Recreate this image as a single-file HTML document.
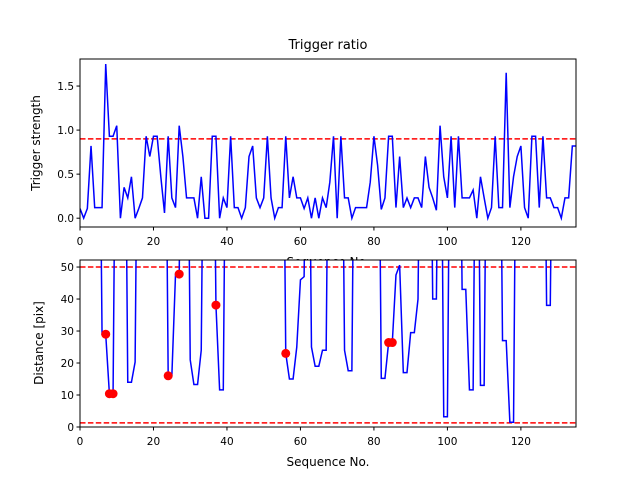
<!DOCTYPE html>
<html><head><meta charset="utf-8"><style>
html,body{margin:0;padding:0;background:#fff;}
svg{display:block;font-family:"DejaVu Sans","Liberation Sans",sans-serif;}
</style></head><body>
<svg id="fig" width="640" height="480" viewBox="0 0 640 480">
<rect width="640" height="480" fill="#fff"/>
<g id="topAxes"></g>
<g id="botAxes"></g>
</svg>
<script>
const H = 150;
const trigStrength = [0.11,0,0.11,0.82,0.12,0.12,0.12,1.75,0.93,0.93,1.05,0,0.35,0.23,0.47,0,0.11,0.23,0.93,0.7,
0.93,0.93,0.47,0.06,0.93,0.23,0.12,1.05,0.7,0.23,0.23,0.23,0,0.47,0,0,0.93,0.93,0,0.23,
0.12,0.93,0.12,0.12,0,0.12,0.7,0.82,0.23,0.12,0.23,0.93,0.23,0,0.12,0.12,0.93,0.23,0.47,0.23,
0.23,0.11,0.23,0,0.23,0,0.23,0.12,0.41,0.93,0,0.93,0.23,0.23,0,0.12,0.12,0.12,0.12,0.41,
0.93,0.6,0.1,0.23,0.93,0.93,0.12,0.7,0.12,0.23,0.12,0.23,0.23,0.12,0.7,0.35,0.23,0.09,1.05,0.47,
0.23,0.93,0.12,0.93,0.23,0.23,0.23,0.32,0,0.47,0.23,0,0.12,0.93,0.12,0.12,1.65,0.12,0.47,0.7,
0.82,0.12,0,0.93,0.93,0.12,0.93,0.23,0.23,0.12,0.12,0,0.23,0.23,0.82,0.82];
const distance = [H,H,H,H,H,H,29,29,10.4,10.4,H,H,H,14,14,20.3,H,H,H,52.3,
52.3,H,H,H,16,16,47.8,47.8,H,H,21,13.3,13.3,24,H,H,H,38.1,11.6,11.6,
H,H,H,H,H,H,H,H,H,H,H,H,H,H,H,H,23,15,15,25,
46,47,H,25,19,19,24,24,H,H,H,H,24,17.6,17.6,H,H,H,H,H,
H,H,15.2,15.2,26.4,26.4,47.5,50.6,17,17,29.5,29.5,40,H,H,H,40,40,H,3.2,
3.2,H,H,H,43,43,11.6,11.6,H,13,13,H,H,H,H,27,27,1.5,1.5,H,
H,H,H,H,H,H,H,38,38,H,H,H,H,H,H,H];
const dotX = [7,8,9,24,27,37,56,84,85];
const dotY = [29,10.4,10.4,16,47.8,38.1,23,26.4,26.4];
const xTicks = [0,20,40,60,80,100,120];
const topYTicks = [0,0.5,1.0,1.5];
const topYLabels = ["0.0","0.5","1.0","1.5"];
const botYTicks = [0,10,20,30,40,50];
const trigThreshold = [0.9];
const distThresholds = [50,1.3];

const NS='http://www.w3.org/2000/svg';
function mk(parent,tag,attrs,text){const e=document.createElementNS(NS,tag);for(const k in attrs)e.setAttribute(k,attrs[k]);if(text!==undefined)e.textContent=text;parent.appendChild(e);return e;}
const L=80,R=576;
const sx=v=>L+(v-0)/135*(R-L);
function axes(g,T,B,ymin,ymax,clipId){
  const sy=v=>B-(v-ymin)/(ymax-ymin)*(B-T);
  const defs=mk(g,'defs',{});const cp=mk(defs,'clipPath',{id:clipId});mk(cp,'rect',{x:L,y:T,width:R-L,height:B-T});
  const bg=mk(g,'rect',{x:L,y:T,width:R-L,height:B-T,fill:'#fff'});
  
  
  return sy;
}
// TOP
const topG=document.getElementById('topAxes');
const syT=axes(topG,59,227,-0.1,1.807,'ct');
const tg=mk(topG,'g',{'clip-path':'url(#ct)'});
trigThreshold.forEach(v=>{const l=mk(tg,'line',{x1:L,x2:R,y1:syT(v),y2:syT(v),stroke:'#f00','stroke-width':1.5,'stroke-dasharray':'5.5,2.4'});

});
const tl=mk(tg,'polyline',{points:trigStrength.map((v,i)=>sx(i)+','+syT(v)).join(' '),fill:'none',stroke:'#00f','stroke-width':1.5});


const tf=mk(topG,'rect',{x:L,y:59,width:R-L,height:168,fill:'none',stroke:'#000','stroke-width':1});


xTicks.forEach(v=>{mk(topG,'line',{x1:sx(v),x2:sx(v),y1:227,y2:230.5,stroke:'#000'});
const t=mk(topG,'text',{x:sx(v),y:245,'font-size':10.5,'text-anchor':'middle'},String(v));

});
topYTicks.forEach((v,i)=>{mk(topG,'line',{x1:L-3.5,x2:L,y1:syT(v),y2:syT(v),stroke:'#000'});
const t=mk(topG,'text',{x:L-6,y:syT(v)+4,'font-size':10.5,'text-anchor':'end'},topYLabels[i]);

});
const tt=mk(topG,'text',{x:328,y:49,'font-size':13,'text-anchor':'middle'},'Trigger ratio');


const ty=mk(topG,'text',{x:0,y:0,'font-size':12,'text-anchor':'middle',transform:'translate(40,143) rotate(-90)'},'Trigger strength');


const tx=mk(topG,'text',{x:328,y:266,'font-size':12,'text-anchor':'middle'},'Sequence No.');


// BOTTOM
const botG=document.getElementById('botAxes');
const syB=axes(botG,260,427,0,52.2,'cb');
const bg2=mk(botG,'g',{'clip-path':'url(#cb)'});
distThresholds.forEach(v=>{const l=mk(bg2,'line',{x1:L,x2:R,y1:syB(v),y2:syB(v),stroke:'#f00','stroke-width':1.5,'stroke-dasharray':'5.5,2.4'});

});
const bl=mk(bg2,'polyline',{points:distance.map((v,i)=>sx(i)+','+syB(v)).join(' '),fill:'none',stroke:'#00f','stroke-width':1.5});


dotX.forEach((x,i)=>{const c=mk(bg2,'circle',{cx:sx(x),cy:syB(dotY[i]),r:4.5,fill:'#f00'});

});
const bf=mk(botG,'rect',{x:L,y:260,width:R-L,height:167,fill:'none',stroke:'#000','stroke-width':1});


xTicks.forEach(v=>{mk(botG,'line',{x1:sx(v),x2:sx(v),y1:427,y2:430.5,stroke:'#000'});
const t=mk(botG,'text',{x:sx(v),y:445,'font-size':10.5,'text-anchor':'middle'},String(v));

});
botYTicks.forEach(v=>{mk(botG,'line',{x1:L-3.5,x2:L,y1:syB(v),y2:syB(v),stroke:'#000'});
const t=mk(botG,'text',{x:L-6,y:syB(v)+4,'font-size':10.5,'text-anchor':'end'},String(v));

});
const by=mk(botG,'text',{x:0,y:0,'font-size':12,'text-anchor':'middle',transform:'translate(43,343) rotate(-90)'},'Distance [pix]');


const bx=mk(botG,'text',{x:328,y:466,'font-size':12,'text-anchor':'middle'},'Sequence No.');


</script>
</body></html>
